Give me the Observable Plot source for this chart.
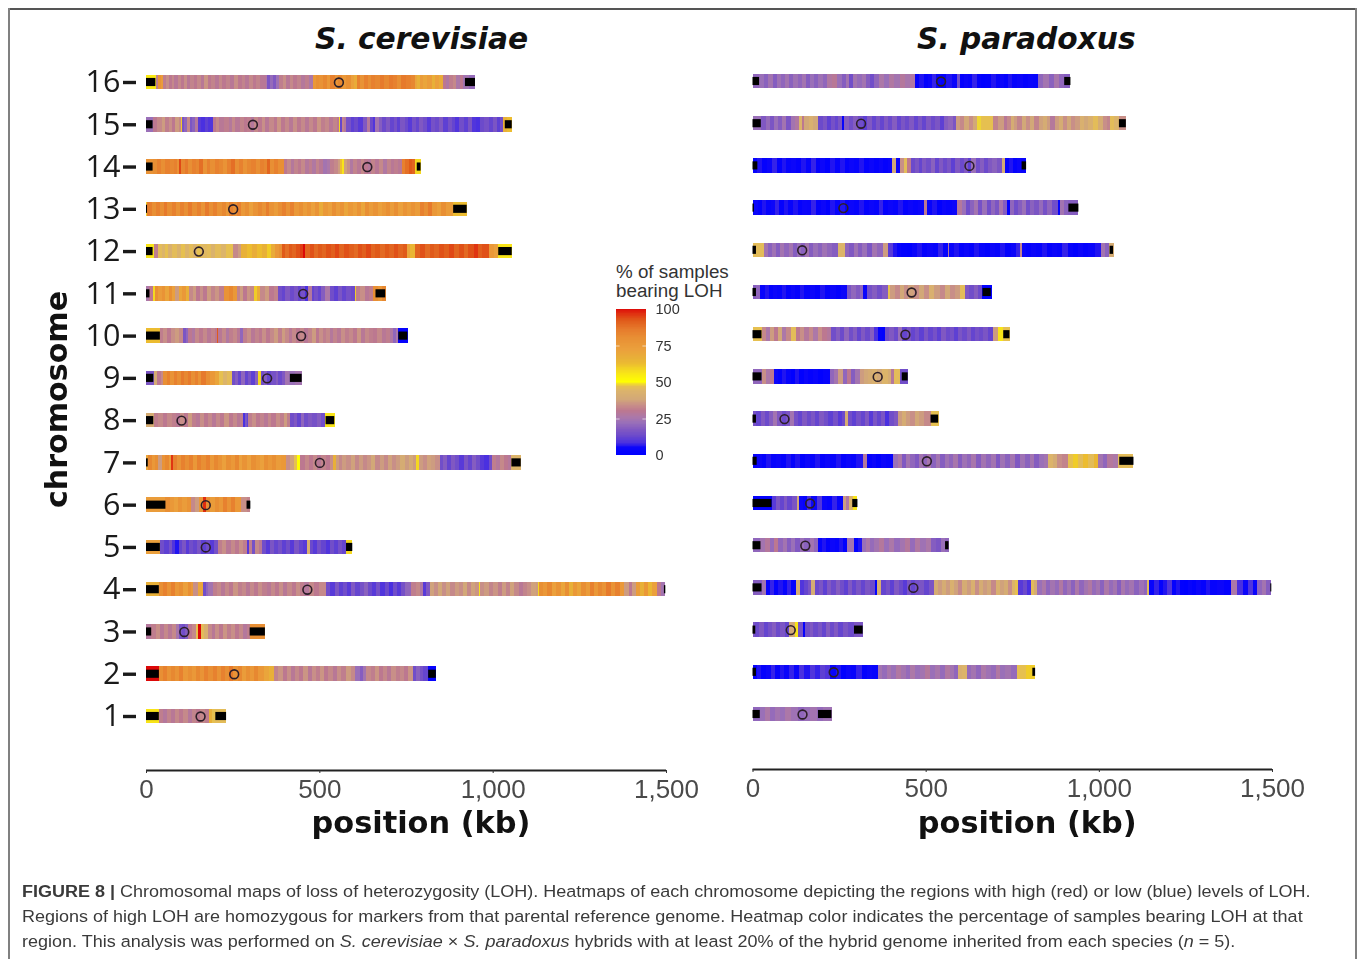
<!DOCTYPE html>
<html><head><meta charset="utf-8">
<script src="https://cdn.jsdelivr.net/npm/d3@7"></script>
<script src="https://cdn.jsdelivr.net/npm/@observablehq/plot@0.6"></script>
<style>
html,body{margin:0;padding:0;background:#fff;}
#page{position:relative;width:1358px;height:959px;overflow:hidden;background:#fff;}
.abs{position:absolute;white-space:nowrap;}
.title{font:italic bold 29.7px "DejaVu Sans";color:#111;}
.cap{font:17.4px "Liberation Sans";color:#3a3a3a;left:22px;transform:scaleX(1.035);transform-origin:left center;}
.leg{font:18.8px "Liberation Sans";color:#333;left:616px;}
#bt{left:8px;right:1px;top:8px;height:2px;background:#555;}
#bl{left:8px;top:8px;bottom:0;width:2px;background:#808080;}
#br{left:1355px;top:8px;bottom:0;width:2px;background:#808080;}
</style></head><body><div id="page">
<div class="abs" id="bt"></div><div class="abs" id="bl"></div><div class="abs" id="br"></div>
<div class="abs title" style="left:315px;top:21px">S. cerevisiae</div>
<div class="abs title" style="left:917px;top:21px">S. paradoxus</div>
<div class="abs leg" style="top:261px">% of samples</div>
<div class="abs leg" style="top:280px">bearing LOH</div>
<div class="abs cap" style="top:881px"><b>FIGURE 8 |</b> Chromosomal maps of loss of heterozygosity (LOH). Heatmaps of each chromosome depicting the regions with high (red) or low (blue) levels of LOH.</div>
<div class="abs cap" style="top:906px">Regions of high LOH are homozygous for markers from that parental reference genome. Heatmap color indicates the percentage of samples bearing LOH at that</div>
<div class="abs cap" style="top:931px">region. This analysis was performed on <i>S. cerevisiae</i> × <i>S. paradoxus</i> hybrids with at least 20% of the hybrid genome inherited from each species (<i>n</i> = 5).</div>
</div>
<script>
// each list: end position (kb), % of samples bearing LOH, end, %, ...
const cer16=[28,55,36,31,42,78,48,74,58,31,66,34,74,30,82,33,92,29,100,33,110,30,118,34,128,29,138,32,148,30,158,33,168,29,178,35,188,30,198,32,210,29,220,33,232,30,242,32,254,29,264,34,276,30,286,32,296,29,308,33,318,30,330,32,345,29,350,26,358,16,366,21,376,17,385,23,394,31,404,34,414,29,424,33,436,30,446,32,458,28,470,31,482,26,490,76,500,80,510,78,522,82,532,76,545,84,555,78,565,82,578,76,590,80,600,72,608,68,616,84,628,78,640,84,650,80,662,84,674,82,686,86,700,82,712,86,724,84,736,80,750,86,764,84,775,82,782,70,790,66,800,74,812,70,824,74,834,66,846,72,858,68,866,30,875,27,885,31,895,33,905,26,915,30,932,24,949,21];
const cer15=[20,22,32,30,45,33,55,36,65,31,75,34,85,30,94,36,100,33,104,60,110,16,118,20,128,33,134,16,142,19,150,28,160,10,170,8,180,11,192,9,202,30,212,33,225,29,238,31,248,28,258,33,270,29,282,32,290,30,302,31,312,28,322,33,334,30,344,34,356,29,368,33,378,30,390,35,402,30,412,33,424,29,436,34,448,30,458,33,470,29,482,33,492,30,504,35,516,31,528,33,540,29,550,32,556,30,560,58,564,12,572,32,578,28,590,15,600,11,612,13,625,10,637,17,645,28,654,13,662,9,672,24,680,18,692,13,704,17,714,12,724,15,734,11,746,16,756,13,766,10,778,15,788,12,800,17,812,14,822,10,834,15,846,13,858,17,870,11,882,15,892,12,904,9,916,14,928,11,940,16,952,9,964,8,976,13,988,15,1000,12,1012,16,1022,11,1030,14,1040,66,1055,62];
const cer14=[20,78,32,80,44,84,56,80,68,84,80,82,90,84,95,78,102,94,112,82,122,86,132,80,144,84,154,82,165,88,175,78,186,84,198,80,210,84,222,82,234,78,246,84,256,88,268,80,280,84,292,78,304,82,316,84,328,80,340,84,350,82,358,90,370,80,382,84,398,80,408,30,418,33,428,28,438,32,448,30,458,33,470,28,480,31,490,27,500,32,512,29,522,24,532,26,542,31,554,33,560,36,566,62,572,56,580,37,588,34,598,27,610,32,620,29,630,33,640,30,650,28,662,32,672,29,684,33,694,27,706,32,716,29,728,31,738,29,748,84,758,88,768,92,776,90,792,58];
const cer13=[4,60,16,85,28,80,40,84,52,80,62,86,74,80,86,84,98,78,110,84,122,80,134,86,146,80,158,84,170,78,182,86,194,80,206,84,218,78,230,82,240,76,252,84,262,80,274,84,286,76,298,80,310,72,322,78,334,82,346,78,356,85,368,78,380,74,392,80,404,84,416,78,428,84,440,76,452,80,464,74,476,78,488,72,500,78,512,68,524,76,536,72,548,80,560,74,572,78,584,70,596,76,608,72,620,78,632,70,644,80,656,74,668,78,680,72,692,76,704,80,716,74,728,80,740,72,752,78,764,74,776,78,790,74,802,84,814,80,826,86,838,76,850,72,866,80,885,74,925,62];
const cer12=[22,56,36,31,46,46,56,44,64,47,75,42,88,46,100,43,112,47,124,44,135,46,148,43,160,47,175,45,188,46,200,43,215,46,230,44,252,47,264,33,275,36,290,66,305,62,320,67,335,62,350,66,362,60,372,68,384,76,392,80,402,92,412,88,422,92,434,90,445,93,452,95,460,100,472,90,484,93,496,89,508,92,520,90,534,93,546,91,558,94,572,90,586,93,600,91,612,89,624,93,636,91,650,94,662,90,676,92,688,89,700,92,714,90,728,93,740,90,752,92,762,70,775,64,790,90,804,93,818,89,832,92,846,90,860,93,874,91,888,94,902,90,916,93,930,89,945,93,958,96,970,91,990,93,1004,76,1016,72,1056,56];
const cer11=[10,26,21,30,25,58,35,80,45,74,55,78,65,70,75,80,85,72,95,36,105,70,115,76,125,66,135,33,145,36,155,30,165,34,175,30,187,36,198,32,212,35,225,31,238,78,250,82,262,76,272,32,280,36,290,30,300,35,312,33,320,60,330,68,342,33,355,36,368,30,382,32,392,14,402,12,414,17,426,13,438,16,448,12,458,15,468,8,478,28,486,12,496,15,506,12,515,18,530,26,542,14,554,11,566,16,578,12,590,15,602,13,607,60,618,31,632,34,644,29,656,31,668,80,680,76,692,82];
const cer10=[40,62,50,31,60,34,72,30,85,34,94,36,107,33,115,16,122,20,132,30,142,27,152,33,164,30,176,33,188,29,198,32,204,30,209,92,220,29,230,33,240,27,250,31,262,33,270,29,280,20,290,31,302,34,314,29,325,32,335,30,346,34,358,30,370,33,380,36,392,31,402,36,412,33,422,29,432,33,444,30,456,33,468,29,480,32,490,36,500,30,510,34,520,31,530,33,540,28,552,32,562,29,574,34,586,31,598,33,608,30,620,35,632,29,642,33,654,31,666,30,680,33,692,29,704,31,712,27,722,20,728,26,757,2];
const cer9=[22,16,32,40,42,30,50,33,60,80,70,84,80,78,90,84,100,80,110,86,120,82,130,86,140,80,150,84,160,78,172,86,184,80,198,76,210,70,222,47,235,44,247,46,256,14,266,18,275,12,285,20,295,12,304,16,314,11,324,19,331,58,340,14,350,18,362,12,374,15,382,18,392,13,402,17,412,24,430,22,450,24];
const cer8=[22,40,36,31,50,33,62,30,74,33,86,31,98,29,110,34,122,30,132,36,144,31,156,29,168,34,180,30,190,33,202,29,214,33,226,30,238,35,250,30,262,33,272,29,280,31,285,8,291,16,295,12,306,31,316,34,328,30,340,32,352,29,362,33,374,30,386,34,398,31,408,36,416,31,426,14,436,17,446,12,456,20,468,14,480,17,492,15,504,18,516,14,545,56];
const cer7=[7,70,16,82,26,76,36,80,46,36,56,78,66,82,73,74,79,96,90,84,100,78,112,84,124,80,136,84,148,76,160,84,172,80,184,84,196,76,208,82,220,78,232,72,244,80,256,76,268,82,278,72,292,78,304,72,316,80,328,76,340,72,352,80,364,76,376,80,390,74,405,76,416,34,428,37,437,47,445,50,458,30,470,33,482,30,494,33,506,29,518,32,530,30,540,34,548,66,556,36,566,33,578,36,590,34,602,37,614,33,626,36,638,33,650,35,662,38,674,33,686,36,698,33,710,37,722,34,734,36,746,40,758,36,770,39,780,36,788,58,798,36,810,34,822,37,834,36,848,34,858,14,868,18,880,12,892,17,904,14,916,10,928,16,940,12,952,18,964,14,976,10,988,8,998,14,1010,31,1022,28,1034,33,1045,30,1054,28,1083,44];
const cer6=[56,74,68,80,80,76,92,72,105,78,118,74,131,78,142,33,152,36,163,76,172,97,184,80,198,74,210,80,222,76,234,84,246,78,258,84,275,76,290,34,300,32];
const cer5=[40,72,52,14,65,11,76,15,85,9,95,6,104,12,114,16,125,10,136,14,148,12,160,16,172,11,184,14,196,10,208,15,220,31,232,34,244,29,256,33,268,30,280,34,292,31,298,10,306,31,315,15,325,33,336,29,346,14,358,10,370,16,382,12,392,15,404,11,416,14,428,10,440,16,452,12,465,10,472,42,482,13,494,10,506,15,518,12,530,9,542,14,554,11,566,15,577,12,595,58];
const cer4=[37,66,48,80,60,84,72,78,84,84,96,76,108,80,120,72,130,80,137,76,150,34,163,70,172,14,180,20,192,24,204,31,216,33,228,29,240,33,252,30,264,35,276,31,288,33,300,29,312,33,324,30,336,34,348,31,360,29,372,33,384,30,396,34,408,29,420,33,432,30,444,34,456,31,470,28,484,33,500,30,520,33,532,14,544,10,556,16,568,11,580,14,592,10,604,17,616,12,628,15,640,19,652,13,664,10,676,15,688,9,700,13,712,8,724,14,736,10,748,15,765,20,778,31,790,33,800,27,808,10,820,17,830,37,842,34,854,38,866,34,878,37,890,33,902,36,914,34,926,38,938,33,950,37,960,35,963,56,976,34,990,36,1002,32,1014,35,1026,31,1038,36,1050,32,1062,37,1075,33,1088,29,1100,32,1112,34,1126,37,1130,36,1134,58,1146,80,1158,76,1170,82,1182,72,1196,78,1208,70,1220,80,1232,66,1244,76,1256,70,1268,80,1280,74,1292,84,1304,76,1316,82,1328,78,1340,86,1352,78,1366,84,1380,76,1392,36,1402,30,1414,36,1424,74,1436,66,1448,76,1460,64,1474,72,1486,30,1498,24];
const cer3=[15,28,28,31,40,34,52,29,64,33,75,29,86,33,96,25,104,16,112,14,120,18,132,30,145,33,150,47,158,100,168,46,178,42,190,33,200,29,212,34,222,30,234,35,244,31,256,34,268,30,280,33,290,28,299,31,343,80];
const cer2=[37,100,48,80,60,84,72,78,84,82,96,78,108,84,120,76,132,80,144,76,156,82,168,78,180,84,192,80,204,84,216,78,228,84,240,80,252,86,264,78,276,82,288,74,300,80,312,76,324,82,340,76,355,70,370,66,382,32,394,35,406,30,418,34,430,29,442,33,454,30,466,35,478,29,490,34,502,31,514,35,526,30,538,33,550,29,562,34,576,31,590,36,603,33,616,22,626,18,636,24,648,33,660,31,672,35,684,30,696,33,708,29,720,34,732,31,744,33,756,30,770,35,780,14,790,19,800,15,814,12,836,2];
const cer1=[37,56,48,31,60,28,72,32,85,29,96,33,108,30,120,33,132,28,144,32,156,30,170,33,182,31,190,66,200,47,231,46];
const par16=[19,20,32,22,45,19,58,24,70,18,82,23,94,20,106,24,118,19,130,23,142,20,154,24,166,18,178,22,190,19,203,23,215,20,230,27,245,29,258,22,270,18,280,24,290,14,302,24,315,21,328,24,340,18,352,14,365,20,380,26,395,22,410,27,425,24,440,28,455,25,469,27,482,2,494,6,506,2,518,5,530,7,545,3,560,1,575,6,590,4,598,14,610,2,622,5,635,3,648,7,660,2,672,0,690,1,702,6,714,3,726,5,738,2,750,6,765,3,780,5,795,2,810,4,825,3,840,20,855,24,870,19,885,25,900,20,918,18];
const par15=[24,22,38,17,50,21,62,16,74,22,86,18,98,24,110,16,122,24,135,27,142,44,150,30,162,38,175,42,190,38,203,13,215,16,226,11,238,15,248,12,258,16,265,3,278,18,290,14,305,18,320,14,332,11,344,17,356,12,368,16,380,12,392,17,404,13,416,18,428,12,440,16,452,13,465,17,478,12,490,16,502,12,514,17,526,13,540,16,552,11,565,18,578,20,587,16,600,36,612,33,624,38,636,34,647,38,660,48,675,47,695,47,710,32,725,36,735,29,745,33,755,40,765,36,778,32,790,38,802,34,814,38,826,32,838,37,850,40,860,36,872,28,884,36,896,40,908,34,920,38,932,34,946,36,958,42,970,38,984,42,998,46,1012,40,1024,34,1032,32,1044,46,1058,44,1078,34];
const par14=[14,3,28,6,42,2,56,5,70,7,84,2,98,6,112,3,126,5,140,2,154,6,168,3,182,7,196,2,210,5,224,1,238,6,252,3,266,6,280,2,294,5,308,3,322,6,336,2,350,5,364,2,378,5,390,2,402,4,415,38,425,5,437,34,445,46,458,30,470,13,480,16,490,12,502,17,514,14,526,19,538,12,550,17,562,13,574,16,586,11,598,17,610,13,622,17,632,11,644,22,656,14,668,18,680,13,692,17,706,19,720,16,728,40,740,3,752,6,764,2,776,5,790,3];
const par13=[4,3,16,5,28,2,40,6,52,3,64,5,76,7,90,2,102,6,116,3,130,6,142,2,156,5,170,4,184,7,198,2,212,5,224,1,238,6,252,3,266,6,280,2,294,5,308,3,322,6,336,2,350,5,364,3,378,7,392,2,406,5,420,3,434,6,448,2,462,5,478,3,495,5,505,30,518,3,532,6,546,1,560,5,575,3,591,5,604,28,616,22,628,14,640,19,652,24,664,15,676,22,688,14,700,20,712,16,724,25,736,18,744,2,755,20,766,14,778,18,790,22,802,14,814,19,826,16,838,21,850,15,866,20,882,14,888,3,900,24,912,19,941,18];
const par12=[33,46,44,24,56,19,68,23,80,18,92,24,104,20,116,24,128,18,140,22,152,19,164,24,176,18,188,22,200,19,215,23,230,20,248,18,267,44,280,20,292,17,304,23,316,18,330,22,345,16,360,24,378,20,392,36,405,10,418,6,430,3,445,1,460,0,475,4,490,6,505,2,520,5,535,3,550,7,565,3,568,28,582,4,595,6,610,2,625,5,640,2,655,6,670,3,685,1,700,5,715,3,730,6,745,2,760,5,773,7,778,32,790,4,805,2,820,5,835,3,850,6,865,2,880,5,895,3,910,7,925,3,940,1,955,5,970,2,988,4,1005,6,1018,24,1030,19,1043,40];
const par11=[10,18,23,20,36,3,48,6,60,2,72,5,84,3,98,6,110,2,124,5,136,2,150,6,165,3,180,5,195,2,210,6,225,3,240,5,255,2,272,5,285,16,298,20,310,17,320,20,332,4,345,15,360,18,375,14,392,18,398,47,412,36,425,33,438,38,450,34,465,37,480,34,495,38,510,34,525,42,540,36,555,33,570,38,585,34,600,36,613,46,625,17,640,14,652,18,664,13,692,1];
const par10=[26,47,38,33,50,26,62,36,74,30,86,38,98,26,110,33,125,46,138,30,150,34,162,28,175,33,190,26,202,34,215,30,228,28,240,14,252,18,265,13,278,20,290,14,302,18,314,12,326,17,338,13,350,18,362,8,373,2,382,1,395,14,408,17,420,13,432,22,445,12,458,16,470,12,482,15,494,11,508,16,520,12,532,15,545,11,558,17,570,13,582,15,594,11,606,16,618,13,630,17,642,12,654,15,666,13,680,16,695,12,708,36,722,56,743,47];
const par9=[26,20,38,34,50,26,63,30,75,5,86,2,98,6,110,3,122,0,135,6,148,1,160,5,175,2,190,4,205,1,224,3,236,20,248,24,260,36,272,20,284,30,296,18,310,24,322,36,334,38,346,40,360,42,375,38,390,44,400,40,410,28,425,46,450,14];
const par8=[10,15,24,12,36,17,48,13,60,18,72,24,84,17,96,13,108,16,120,24,132,15,144,12,156,17,168,13,180,16,192,12,206,17,218,14,232,11,246,15,258,10,267,13,277,40,288,14,300,11,312,15,324,12,336,17,348,10,360,16,372,12,384,16,395,8,408,14,420,17,432,36,444,40,456,36,468,34,480,38,495,36,514,33,538,47];
const par7=[12,3,26,5,40,2,54,6,68,3,82,5,96,2,110,6,124,3,138,6,152,1,166,5,180,3,195,6,210,2,225,5,240,3,255,6,270,2,285,5,300,3,320,6,332,28,345,2,358,5,370,1,385,5,406,3,420,22,432,26,444,17,456,24,468,20,480,17,492,24,504,20,516,25,530,19,542,24,555,18,568,23,580,20,592,25,605,18,618,23,632,20,646,25,660,18,674,24,688,20,702,24,716,17,730,23,744,19,758,24,772,17,786,23,800,19,814,24,828,18,842,22,854,24,868,44,880,40,894,34,910,32,925,47,940,60,955,46,970,62,985,46,998,64,1012,24,1024,20,1040,28,1054,26,1100,46];
const par6=[55,2,68,10,80,16,90,12,100,17,115,12,128,16,133,38,145,5,158,2,170,8,185,5,200,9,215,4,230,2,245,7,262,3,270,36,280,27,290,44,303,56];
const par5=[23,20,36,24,50,28,62,21,75,30,88,20,100,24,112,18,124,22,136,17,150,22,165,19,178,24,188,20,200,3,212,6,225,2,238,5,250,3,262,6,273,1,293,24,305,1,316,6,328,22,340,26,352,21,366,24,380,28,395,22,410,26,425,21,440,24,455,28,470,21,485,27,500,23,515,26,530,18,545,16,556,22,566,20];
const par4=[26,18,38,24,50,4,62,7,75,2,88,6,100,3,112,7,125,2,138,40,150,9,160,12,168,16,180,40,192,13,204,16,216,11,228,17,240,13,252,18,264,14,276,11,288,17,300,12,314,16,326,12,340,16,353,13,360,1,370,40,385,12,398,15,410,11,422,17,434,13,446,10,458,16,470,12,482,15,496,16,510,12,523,16,535,40,546,36,558,40,570,36,582,42,594,37,606,33,618,40,630,36,642,42,654,34,666,40,678,36,690,38,702,33,714,42,726,37,738,40,748,34,758,44,768,47,780,10,792,13,803,8,812,46,822,40,836,22,848,26,860,20,872,24,884,21,896,27,908,20,920,24,932,19,944,26,956,20,968,24,980,27,992,21,1004,24,1016,19,1028,26,1040,21,1052,24,1064,18,1076,25,1088,21,1102,24,1116,19,1130,23,1138,20,1146,46,1160,3,1175,7,1185,2,1198,6,1210,9,1222,2,1235,6,1245,1,1258,0,1270,3,1282,1,1296,5,1310,2,1322,6,1340,3,1360,5,1383,2,1400,26,1415,8,1430,5,1445,9,1458,4,1470,20,1482,24,1498,18];
const par3=[8,16,20,13,32,17,44,12,56,15,68,18,80,13,95,16,105,12,122,38,130,56,147,15,152,2,165,14,176,17,188,13,200,16,212,12,224,18,236,13,248,17,260,12,275,16,293,13,320,16];
const par2=[12,3,25,6,38,2,52,5,65,7,78,3,92,6,105,4,120,7,135,4,150,8,165,6,180,9,195,7,210,11,225,9,240,3,255,6,270,1,285,5,300,3,315,7,330,2,345,5,361,3,375,24,388,21,400,25,414,22,428,27,442,24,456,21,470,26,484,22,498,24,512,28,526,22,540,25,555,21,570,27,582,24,593,20,605,42,618,44,632,21,645,24,660,20,674,26,688,23,702,21,716,27,730,22,745,24,763,21,790,47,816,60];
const par1=[21,20,35,22,50,26,64,21,80,24,95,22,110,26,130,23,148,20,165,22,185,24,205,21,229,23];
const chromosomes=["16","15","14","13","12","11","10","9","8","7","6","5","4","3","2","1"];
const cerHeat=[cer16,cer15,cer14,cer13,cer12,cer11,cer10,cer9,cer8,cer7,cer6,cer5,cer4,cer3,cer2,cer1];
const parHeat=[par16,par15,par14,par13,par12,par11,par10,par9,par8,par7,par6,par5,par4,par3,par2,par1];
const cerCentromere=[555,307,637,250,151,452,446,348,101,500,171,171,464,109,253,156];
const parCentromere=[543,312,625,261,142,458,440,360,91,502,165,151,463,109,233,143];
// black end regions: start, end of the left one, start, end of the right one (kb)
const cerEnds=[[0,27,920,949],[0,19,1035,1055],[0,19,781,792],[0,3,886,925],[0,19,1016,1055],[0,10,662,690],[0,40,728,754],[0,21,415,449],[0,21,518,543],[0,5,1054,1081],[0,56,290,301],[0,40,577,595],[0,37,1494,1498],[0,15,299,343],[0,37,814,836],[0,37,200,231]];
const parEnds=[[0,19,900,918],[0,24,1058,1078],[0,14,777,790],[0,4,912,941],[0,10,1031,1041],[0,10,664,688],[0,26,724,742],[0,26,431,448],[0,10,514,536],[0,12,1059,1100],[0,55,288,303],[0,23,556,566],[0,26,1495,1498],[0,8,293,318],[0,10,808,816],[0,21,189,228]];
const xTicks=[0,500,1000,1500];
const legendTicks=[0,25,50,75,100];
const colorStops=[0,5,8,13,17,22,26,30,34,38,44,47,50,56,60,62,66,72,80,86,92,97,100];
const colorRange=["#0000ff","#0c06fa","#4a30e0","#6c4acb","#8058c2","#9a70b8","#ac78a8","#bc7890","#c88f88","#d2a878","#dcb46a","#e6c050","#ffff00","#f8e418","#f0cc28","#ecbc30","#e8b038","#eba03c","#e88f34","#e67a2c","#e05a1a","#e02c10","#dc0808"];

const color={type:"linear",domain:colorStops,range:colorRange,interpolate:"rgb"};
function segments(lists){
  const out=[];
  lists.forEach((l,i)=>{let s=0;for(let k=0;k<l.length;k+=2){out.push({chr:chromosomes[i],start:s,end:l[k],pct:l[k+1]});s=l[k];}});
  return out;
}
function ends(lists){
  const out=[];
  lists.forEach((e,i)=>{out.push({chr:chromosomes[i],start:e[0],end:e[1]},{chr:chromosomes[i],start:e[2],end:e[3]});});
  return out;
}
function cents(list){return list.map((c,i)=>({chr:chromosomes[i],pos:c}));}
const font='"Liberation Sans"';
function panel(opts){
  const {left,x0,x1,y16,y1,axisY,heat,endsL,cent,showY,labDy}=opts;
  const step=(y1-y16)/15;
  const marks=[
    Plot.barX(segments(heat),{x1:"start",x2:"end",y:"chr",fill:"pct",shapeRendering:"crispEdges"}),
    Plot.barX(ends(endsL),{x1:"start",x2:"end",y:"chr",fill:"#000",insetTop:3.2,insetBottom:3.2}),
    Plot.dot(cents(cent),{x:"pos",y:"chr",r:4.4,stroke:"#2c1e28",strokeWidth:1.6,fill:"none"}),
    Plot.ruleY([0],{x1:0,x2:1500,y:()=>chromosomes[15],dy:axisY-y1,stroke:"#222",strokeWidth:2}),
    Plot.axisX({anchor:"bottom",ticks:xTicks,tickSize:3,tickPadding:6,tickFormat:d3.format(","),fontSize:26,fontFamily:font,color:"#4a4a4a",stroke:"#333",label:null}),
    Plot.text(["position (kb)"],{frameAnchor:"bottom",lineAnchor:"middle",dx:14.5,dy:labDy,fontSize:30.4,fontWeight:"bold",fontFamily:"DejaVu Sans",fill:"#111"})
  ];
  if(showY){
    marks.push(
      Plot.axisY({anchor:"left",dx:-10,tickSize:13,tickPadding:3,strokeWidth:3.4,fontSize:30.5,fontFamily:"Open Sans",color:"#1a1a1a",stroke:"#1a1a1a",label:null}),
      Plot.text(["chromosome"],{frameAnchor:"left",textAnchor:"middle",lineAnchor:"middle",rotate:-90,dx:-89,dy:14,fontSize:30.1,fontWeight:"bold",fontFamily:"DejaVu Sans",fill:"#111"})
    );
  }else{marks.push(Plot.axisY({ticks:[],label:null}));}
  const svg=Plot.plot({
    width:opts.width,height:870,marginLeft:x0-left,marginRight:left+opts.width-x1,marginTop:0,marginBottom:870-axisY,
    style:{position:"absolute",left:left+"px",top:"0px",background:"transparent",overflow:"visible",filter:"blur(0.6px)"},
    x:{domain:[0,1500],range:[x0-left,x1-left]},
    y:{type:"band",domain:chromosomes,range:[y16-step/2,y1+step/2],paddingInner:0.656,paddingOuter:0.328,align:0.5,round:false},
    color,
    marks
  });
  return svg;
}
const page=document.getElementById("page");
page.appendChild(panel({left:0,width:700,x0:146,x1:666,y16:82,y1:716,axisY:770,heat:cerHeat,endsL:cerEnds,cent:cerCentromere,showY:true,labDy:53}));
page.appendChild(panel({left:700,width:650,x0:752.5,x1:1272,y16:81,y1:714,axisY:769,heat:parHeat,endsL:parEnds,cent:parCentromere,showY:false,labDy:54}));
// legend
const ramp=d3.range(0,100,0.5);
page.appendChild(Plot.plot({
  width:90,height:170,marginLeft:26,marginRight:34,marginTop:9,marginBottom:15,
  style:{position:"absolute",left:"590px",top:"300px",background:"transparent",overflow:"visible",filter:"blur(0.4px)"},
  x:{domain:[0,1],axis:null},
  y:{domain:[0,100]},
  color,
  marks:[
    Plot.rect(ramp,{x1:0,x2:1,y1:d=>d,y2:d=>d+0.5,fill:d=>d,shapeRendering:"crispEdges"}),
    Plot.ruleY([25,75],{x1:0,x2:0.12,stroke:"#fff",strokeOpacity:.6}),
    Plot.ruleY([25,75],{x1:0.88,x2:1,stroke:"#fff",strokeOpacity:.6}),
    Plot.axisY({anchor:"right",ticks:legendTicks,tickSize:0,tickPadding:9,fontSize:14.5,fontFamily:font,color:"#333",label:null})
  ]
}));
</script></body></html>
